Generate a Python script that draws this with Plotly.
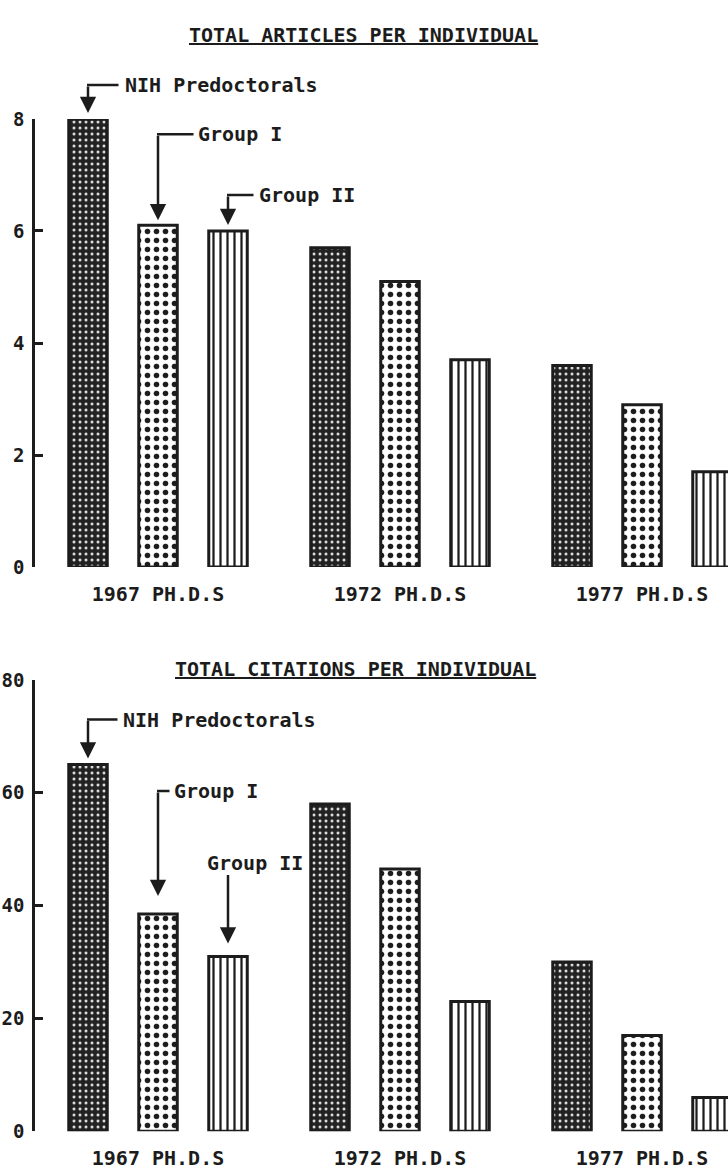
import plotly.graph_objects as go

# ---------------- data ----------------
groups = ["1967 PH.D.S", "1972 PH.D.S", "1977 PH.D.S"]
series = ["NIH Predoctorals", "Group I", "Group II"]

articles_nih = [8.0, 5.7, 3.6]
articles_g1 = [6.1, 5.1, 2.9]
articles_g2 = [6.0, 3.7, 1.7]

citations_nih = [65, 58, 30]
citations_g1 = [38.5, 46.5, 17]
citations_g2 = [31, 23, 6]

articles_ticks = [0, 2, 4, 6, 8]
citations_ticks = [0, 20, 40, 60, 80]

# ---------------- layout helpers ----------------
INK = "#1c1c1c"
FONT = "DejaVu Sans Mono"
GROUP_STEP = 242 / 70.0          # group spacing in slot units
BAR_W = 0.55

def xpos(g, k):
    return g * GROUP_STEP + k

patterns = [
    dict(shape=".", fgcolor="#e0e0e0", bgcolor="#222222", size=6, solidity=0.2, fillmode="replace"),
    dict(shape=".", fgcolor=INK, bgcolor="white", size=9, solidity=0.3, fillmode="replace"),
    dict(shape="|", fgcolor=INK, bgcolor="white", size=7, solidity=0.32, fillmode="replace"),
]
base_colors = ["#222222", "white", "white"]

fig = go.Figure()

panels = [
    ("x", "y", [articles_nih, articles_g1, articles_g2]),
    ("x2", "y2", [citations_nih, citations_g1, citations_g2]),
]

for xr, yr, vals in panels:
    for k, (name, v) in enumerate(zip(series, vals)):
        fig.add_trace(go.Bar(
            x=[xpos(g, k) for g in range(len(groups))],
            y=v,
            width=BAR_W,
            name=name,
            xaxis=xr, yaxis=yr,
            marker=dict(color=base_colors[k], pattern=patterns[k],
                        line=dict(color=INK, width=3)),
            showlegend=False,
            hoverinfo="skip",
        ))

H = 1174.0
xrange_ = [(35 - 88) / 70.0, (728 - 88) / 70.0]

common_x = dict(range=xrange_, showgrid=False, zeroline=False, showline=False,
                tickvals=[xpos(g, 1) for g in range(len(groups))], ticktext=groups,
                ticks="outside", ticklen=9, tickcolor="rgba(0,0,0,0)",
                tickfont=dict(family=FONT, size=20, color=INK, weight="bold"))
common_y = dict(showgrid=False, zeroline=False, showline=True, linewidth=2.5,
                linecolor=INK, ticks="inside", ticklen=8, tickwidth=2.5,
                tickcolor=INK, ticklabelstandoff=4,
                tickfont=dict(family=FONT, size=19, color=INK, weight="bold"))

fig.update_layout(
    width=728, height=1174,
    margin=dict(l=35, r=0, t=0, b=0),
    paper_bgcolor="white", plot_bgcolor="white",
    font=dict(family=FONT, color=INK, weight="bold"),
    barmode="overlay",
    xaxis=dict(anchor="y", domain=[0, 1], **common_x),
    yaxis=dict(anchor="x", domain=[1 - 566.7 / H, 1 - 110 / H], range=[0, 8],
               tickvals=articles_ticks, **common_y),
    xaxis2=dict(anchor="y2", domain=[0, 1], **common_x),
    yaxis2=dict(anchor="x2", domain=[1 - 1141.7 / H, 1 - 681.7 / H], range=[0, 80],
                tickvals=citations_ticks, **common_y),
)

UL = ('<span style="text-decoration:underline;text-decoration-thickness:3px;'
      'text-underline-offset:3px">{}</span>')

# titles
fig.add_annotation(text=UL.format("TOTAL ARTICLES PER INDIVIDUAL"), xref="paper", yref="paper",
                   x=(363 - 35) / 693.0, y=1 - 24 / H, showarrow=False,
                   xanchor="center", yanchor="middle",
                   font=dict(family=FONT, size=20, color=INK, weight="bold"))
fig.add_annotation(text=UL.format("TOTAL CITATIONS PER INDIVIDUAL"), xref="paper", yref="paper",
                   x=(355 - 35) / 693.0, y=1 - 671 / H, showarrow=False,
                   xanchor="center", yanchor="middle",
                   font=dict(family=FONT, size=20, color=INK, weight="bold"))

# elbow-arrow callouts (pixel offsets relative to the top of each 1967 bar)
# (rise of elbow, horizontal length, text x-shift, arrow standoff)
callouts = {
    "y": [(34, 32, 35, 6), (91, 37, 38, 5), (36, 27, 29, 6)],
    "y2": [(45, 31, 33, 6), (123, 13, 14, 18), (83, 0, None, 13)],
}
tiny = dict(size=1, color="rgba(0,0,0,0)")
for xr, yr, vals in panels:
    for k, (name, v) in enumerate(zip(series, vals)):
        rise, hlen, tshift, stand = callouts[yr][k]
        bx, by = xpos(0, k), v[0]
        # vertical segment with arrow head
        fig.add_annotation(x=bx, y=by, xref=xr, yref=yr, ax=0, ay=-rise, text="",
                           font=tiny, showarrow=True, arrowhead=2, arrowsize=1.3,
                           arrowwidth=2.5, arrowcolor=INK, standoff=stand)
        if hlen > 0:
            # horizontal segment of the elbow
            fig.add_annotation(x=bx, y=by, xref=xr, yref=yr, xshift=-1, yshift=rise,
                               ax=hlen + 1, ay=0, text="", font=tiny, showarrow=True,
                               arrowhead=0, arrowwidth=2.5, arrowcolor=INK)
            fig.add_annotation(x=bx, y=by, xref=xr, yref=yr, xshift=tshift, yshift=rise,
                               text=name, showarrow=False, xanchor="left", yanchor="middle",
                               font=dict(family=FONT, size=20, color=INK, weight="bold"))
        else:
            fig.add_annotation(x=bx, y=by, xref=xr, yref=yr, xshift=27, yshift=rise + 10,
                               text=name, showarrow=False, xanchor="center", yanchor="middle",
                               font=dict(family=FONT, size=20, color=INK, weight="bold"))

fig.write_html("out.html", config={"displayModeBar": False},
               post_script="document.body.style.margin='0';document.body.style.overflow='hidden';")
